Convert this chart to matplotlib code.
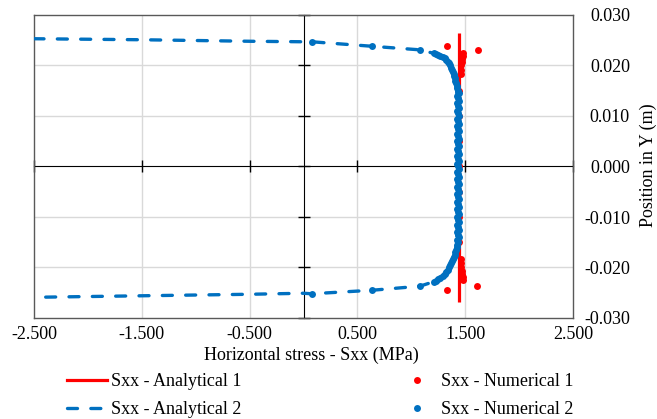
import matplotlib
matplotlib.use("Agg")
import matplotlib.pyplot as plt
from matplotlib.lines import Line2D
from matplotlib.ticker import FuncFormatter

plt.rcParams['font.family'] = ['Liberation Serif', 'DejaVu Serif']
plt.rcParams['axes.unicode_minus'] = False

# Analytical solution 1: uniform horizontal stress across the height
ana1_sxx = [1.44, 1.44]
ana1_y = [-0.0268, 0.0264]

# Analytical solution 2: stress profile with edge relaxation
ana2_sxx = [-2.5, -1.5, -0.5, 0.0, 0.076, 0.64, 1.08, 1.21, 1.31, 1.375, 1.405,
            1.42, 1.43, 1.43, 1.42, 1.40, 1.375, 1.31, 1.21, 1.08, 0.64, 0.076,
            0.0, -0.5, -1.5, -2.5]
ana2_y = [0.0253, 0.0251, 0.0248, 0.0247, 0.0247, 0.0238, 0.0231, 0.0224, 0.0214,
          0.0198, 0.0180, 0.0160, 0.0100, -0.0100, -0.0160, -0.0175, -0.0187,
          -0.0213, -0.0228, -0.0237, -0.0245, -0.0252, -0.0251, -0.0253, -0.0256,
          -0.0259]

# Numerical solution 1
num1_sxx = [1.33, 1.616, 1.48, 1.475, 1.47, 1.468, 1.465, 1.462, 1.458,
            1.445, 1.445, 1.445, 1.445, 1.445, 1.445, 1.445,
            1.458, 1.462, 1.465, 1.468, 1.47, 1.475, 1.48, 1.607, 1.33]
num1_y = [0.0239, 0.0231, 0.0224, 0.0219, 0.0213, 0.0207, 0.0200, 0.0192, 0.0184,
          0.015, 0.010, 0.005, 0.0, -0.005, -0.010, -0.015,
          -0.0184, -0.0192, -0.0199, -0.0206, -0.0212, -0.0218, -0.0225, -0.0237, -0.0245]

# Numerical solution 2
num2_top_sxx = [0.076, 0.64, 1.08, 1.21, 1.23, 1.25, 1.27, 1.29, 1.31, 1.325, 1.34,
                1.35, 1.36, 1.37, 1.38, 1.39, 1.395, 1.40, 1.405, 1.41, 1.415, 1.42]
num2_top_y = [0.0247, 0.0238, 0.0231, 0.0224, 0.0223, 0.0221, 0.0219, 0.0217, 0.0214,
              0.0211, 0.0207, 0.0204, 0.0200, 0.0196, 0.0192, 0.0188, 0.0184, 0.0180,
              0.0175, 0.0170, 0.0165, 0.0160]
num2_mid_sxx = [1.425, 1.43, 1.44, 1.425, 1.435, 1.445, 1.425, 1.435, 1.445, 1.425,
                1.435, 1.445, 1.425, 1.435, 1.445, 1.425, 1.435, 1.445, 1.425, 1.435,
                1.445, 1.425, 1.435, 1.445, 1.425, 1.435, 1.445, 1.425, 1.435, 1.445,
                1.425, 1.435, 1.445, 1.425, 1.435, 1.445, 1.425, 1.435, 1.445, 1.425,
                1.435, 1.445, 1.425, 1.435, 1.445, 1.425, 1.435, 1.445, 1.425, 1.435,
                1.445, 1.425, 1.435, 1.445, 1.425, 1.435, 1.445, 1.425, 1.435, 1.445,
                1.425, 1.43, 1.425]
num2_mid_y = [0.0155, 0.0150, 0.0145, 0.0140, 0.0135, 0.0130, 0.0125, 0.0120, 0.0115,
              0.0110, 0.0105, 0.0100, 0.0095, 0.0090, 0.0085, 0.0080, 0.0075, 0.0070,
              0.0065, 0.0060, 0.0055, 0.0050, 0.0045, 0.0040, 0.0035, 0.0030, 0.0025,
              0.0020, 0.0015, 0.0010, 0.0005, 0.0000, -0.0005, -0.0010, -0.0015,
              -0.0020, -0.0025, -0.0030, -0.0035, -0.0040, -0.0045, -0.0050, -0.0055,
              -0.0060, -0.0065, -0.0070, -0.0075, -0.0080, -0.0085, -0.0090, -0.0095,
              -0.0100, -0.0105, -0.0110, -0.0115, -0.0120, -0.0125, -0.0130, -0.0135,
              -0.0140, -0.0145, -0.0150, -0.0155]
num2_bot_sxx = [1.42, 1.415, 1.41, 1.405, 1.40, 1.39, 1.38, 1.37, 1.36, 1.35, 1.34,
                1.325, 1.31, 1.29, 1.27, 1.25, 1.23, 1.21, 1.08, 0.64, 0.076]
num2_bot_y = [-0.0160, -0.0165, -0.0170, -0.0175, -0.0180, -0.0184, -0.0188, -0.0192,
              -0.0196, -0.0200, -0.0204, -0.0209, -0.0213, -0.0217, -0.0220, -0.0223,
              -0.0226, -0.0228, -0.0237, -0.0245, -0.0252]
num2_sxx = num2_top_sxx + num2_mid_sxx + num2_bot_sxx
num2_y = num2_top_y + num2_mid_y + num2_bot_y

x_ticks = [-2.5, -1.5, -0.5, 0.5, 1.5, 2.5]
y_ticks = [-0.03, -0.02, -0.01, 0.0, 0.01, 0.02, 0.03]
x_grid = [-1.5, -0.5, 0.5, 1.5]
y_grid = [-0.02, -0.01, 0.01, 0.02]

RED = '#ff0000'
BLUE = '#0070c0'
FRAME = '#595959'
GRID = '#d9d9d9'
FS = 13

W, H = 657, 419
fig = plt.figure(figsize=(W / 100, H / 100), dpi=100)
L, R, T, B = 34, 573, 15, 318
ax = fig.add_axes([L / W, 1 - B / H, (R - L) / W, (B - T) / H])
ax.set_xlim(-2.5, 2.5)
ax.set_ylim(-0.03, 0.03)

for s in ax.spines.values():
    s.set_color(FRAME)
    s.set_linewidth(1.0)
ax.set_xticks(x_grid)
ax.set_yticks(y_grid)
ax.tick_params(length=0, labelbottom=False, labelleft=False)
ax.grid(True, color=GRID, linewidth=1.0)
ax.set_axisbelow(True)

# Axes crossing at zero, drawn above the grid and below the data
ax0x = ax.secondary_xaxis(0.5)
ax0x.set_xticks(x_ticks)
ax0x.tick_params(direction='inout', length=9, width=1, color='black', labelbottom=False, labeltop=False)
ax0x.spines['bottom'].set_color('black')
ax0x.spines['bottom'].set_linewidth(1.2)
ax0x.set_zorder(2)
ax0y = ax.secondary_yaxis(0.5)
ax0y.set_yticks(y_ticks)
ax0y.tick_params(direction='inout', length=9, width=1, color='black', labelleft=False, labelright=False)
ax0y.spines['left'].set_color('black')
ax0y.spines['left'].set_linewidth(1.2)
ax0y.set_zorder(2)

# Tick labels on the outer frame
fmt = FuncFormatter(lambda v, p: f"{v:.3f}")
axb = ax.secondary_xaxis('bottom')
axb.set_xticks(x_ticks)
axb.xaxis.set_major_formatter(fmt)
axb.tick_params(length=0, pad=6, labelsize=FS)
axb.spines['bottom'].set_visible(False)

axr = ax.secondary_yaxis('right')
axr.set_yticks(y_ticks)
axr.yaxis.set_major_formatter(fmt)
axr.tick_params(length=0, pad=41, labelsize=FS)
for lab in axr.get_yticklabels():
    lab.set_horizontalalignment('right')
axr.spines['right'].set_visible(False)

# Data
ax.plot(ana1_sxx, ana1_y, color=RED, linewidth=2.3, solid_capstyle='butt', zorder=3)
ax.plot(ana2_sxx, ana2_y, color=BLUE, linewidth=2.4, linestyle=(0, (3, 4)),
        dash_capstyle='round', zorder=3)
ax.plot(num1_sxx, num1_y, linestyle='none', marker='o', markersize=5.0, color=RED,
        markeredgewidth=0, zorder=4)
ax.plot(num2_sxx, num2_y, linestyle='none', marker='o', markersize=5.0, color=BLUE,
        markeredgewidth=0, zorder=5)

fig.text(311 / W, 1 - 355 / H, 'Horizontal stress - Sxx (MPa)', ha='center', va='center', fontsize=FS)
fig.text(648 / W, 1 - 165 / H, 'Position in Y (m)', ha='center', va='center', rotation=90, fontsize=FS)

handles = [
    Line2D([], [], color=RED, linewidth=2.3),
    Line2D([], [], color=BLUE, linewidth=2.4, linestyle=(0, (3, 4)), dash_capstyle='round'),
    Line2D([], [], linestyle='none', marker='o', markersize=5.0, color=RED, markeredgewidth=0),
    Line2D([], [], linestyle='none', marker='o', markersize=5.0, color=BLUE, markeredgewidth=0),
]
labels = ['Sxx - Analytical 1', 'Sxx - Analytical 2', 'Sxx - Numerical 1', 'Sxx - Numerical 2']
fig.legend(handles, labels, ncol=2, loc='upper left', bbox_to_anchor=(67 / W, 1 - 373 / H),
           frameon=False, fontsize=FS, handlelength=2.2, handletextpad=0.25,
           columnspacing=8.6, labelspacing=0.62, borderpad=0, borderaxespad=0)

fig.savefig('out.png', dpi=100)
